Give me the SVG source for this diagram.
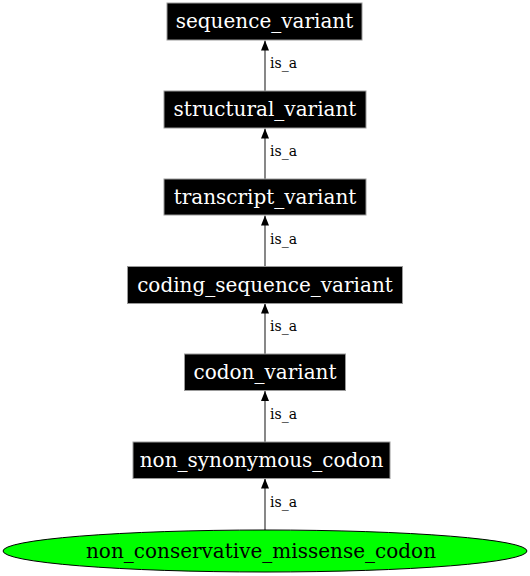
<svg xmlns="http://www.w3.org/2000/svg" width="530" height="576" viewBox="0 0 530 576">
<style>
.box{fill:#000;stroke:#999;stroke-width:1}
.lbl{font-family:"DejaVu Serif",serif;font-size:20px;fill:#fff;text-anchor:middle}
.lbl2{font-family:"DejaVu Serif",serif;font-size:20px;fill:#000;text-anchor:middle}
.edge{stroke:#555;stroke-width:1.4;fill:none}
.elbl{font-family:"DejaVu Serif",serif;font-size:14px;fill:#000}
</style>
<defs>
<marker id="ah" markerWidth="10" markerHeight="8" refX="10" refY="4" orient="auto" markerUnits="userSpaceOnUse">
<path d="M0,0 L10,4 L0,8 Z" fill="#000"/>
</marker>
</defs>
<rect width="530" height="576" fill="#fff"/>
<g id="edges">
<line class="edge" x1="265" y1="91" x2="265" y2="40.5" marker-end="url(#ah)"/>
<text class="elbl" x="270" y="68">is_a</text>
<line class="edge" x1="265" y1="179" x2="265" y2="128.5" marker-end="url(#ah)"/>
<text class="elbl" x="270" y="156">is_a</text>
<line class="edge" x1="265" y1="266.5" x2="265" y2="215.5" marker-end="url(#ah)"/>
<text class="elbl" x="270" y="244">is_a</text>
<line class="edge" x1="265" y1="354" x2="265" y2="303.5" marker-end="url(#ah)"/>
<text class="elbl" x="270" y="331">is_a</text>
<line class="edge" x1="265" y1="442" x2="265" y2="391" marker-end="url(#ah)"/>
<text class="elbl" x="270" y="419">is_a</text>
<line class="edge" x1="265" y1="530" x2="265" y2="478.5" marker-end="url(#ah)"/>
<text class="elbl" x="270" y="507">is_a</text>
</g>
<g id="sequence_variant">
<rect class="box" x="167" y="3" width="195" height="37"/>
<text class="lbl" x="264.5" y="28">sequence_variant</text>
</g>
<g id="structural_variant">
<rect class="box" x="164" y="91" width="202" height="37"/>
<text class="lbl" x="265" y="116">structural_variant</text>
</g>
<g id="transcript_variant">
<rect class="box" x="164" y="179" width="202" height="36"/>
<text class="lbl" x="265" y="203.5">transcript_variant</text>
</g>
<g id="coding_sequence_variant">
<rect class="box" x="127.5" y="266.5" width="275" height="37"/>
<text class="lbl" x="265" y="291.5">coding_sequence_variant</text>
</g>
<g id="codon_variant">
<rect class="box" x="184.5" y="354" width="161" height="36.5"/>
<text class="lbl" x="265" y="378.5">codon_variant</text>
</g>
<g id="non_synonymous_codon">
<rect class="box" x="133" y="442" width="257" height="36.5"/>
<text class="lbl" x="261.5" y="466.5">non_synonymous_codon</text>
</g>
<g id="non_conservative_missense_codon">
<ellipse cx="265" cy="551" rx="262" ry="21" fill="#00ff00" stroke="#000" stroke-width="1"/>
<text class="lbl2" x="261" y="557.5">non_conservative_missense_codon</text>
</g>
</svg>
